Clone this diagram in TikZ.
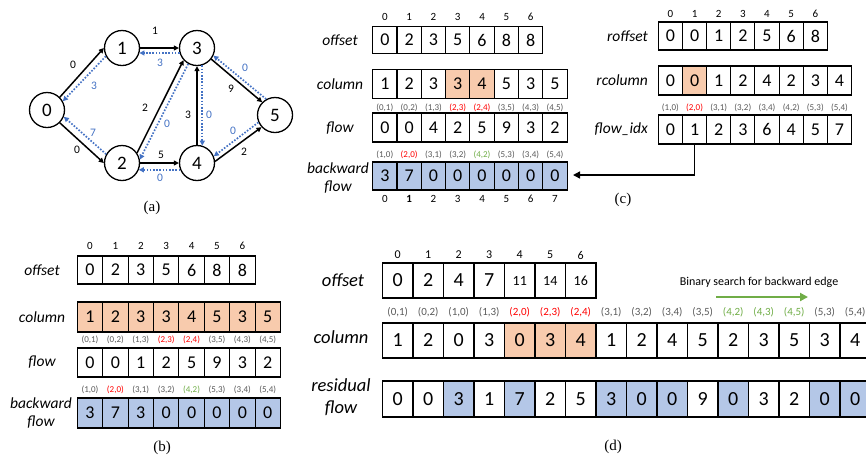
\documentclass[tikz,border=0pt]{standalone}
\usepackage{fontspec}
\setmainfont{Carlito}
\newfontfamily\capfont{Liberation Serif}
\usetikzlibrary{arrows.meta}

\definecolor{hlorange}{HTML}{F8CBAD}
\definecolor{hlblue}{HTML}{B4C7E7}
\definecolor{revblue}{HTML}{4472C4}
\definecolor{srchgreen}{HTML}{70AD47}
\definecolor{edgered}{HTML}{FF0000}
\definecolor{idxgray}{HTML}{595959}

\newcommand{\fsz}[1]{\fontsize{#1}{#1}\selectfont}

\tikzset{
  cell/.style={draw, line width=1.1pt, inner sep=0pt, minimum width=24.3pt,
    minimum height=29pt, font=\fsz{18}},
  bigcell/.style={cell, minimum width=30.5pt, minimum height=35pt, font=\fsz{20}},
  idx/.style={inner sep=0pt, font=\fsz{11}},
  elab/.style={inner sep=0pt, font=\fsz{9}},
  rowlab/.style={inner sep=0pt, align=center, font=\fontsize{15.5}{18}\selectfont\itshape},
  bigrowlab/.style={rowlab, font=\fontsize{18.5}{22}\selectfont\itshape},
  vtx/.style={circle, draw, line width=1.3pt, minimum size=35pt, inner sep=0pt, font=\fsz{19}},
  fwd/.style={line width=1.5pt, -{Triangle[length=5pt,width=5pt]}},
  bwd/.style={line width=1.7pt, revblue, dash pattern=on 1.6pt off 1.6pt,
    -{Triangle[length=5pt,width=5pt]}},
  wlab/.style={inner sep=0pt, font=\fsz{11.5}},
  blab/.style={wlab, text=revblue},
  capt/.style={inner sep=0pt, font=\capfont\fsz{15}},
}

\begin{document}
\begin{tikzpicture}[x=1pt, y=-1pt]
  \useasboundingbox (0,0) rectangle (866,456);
  \clip (0,0) rectangle (866,456);

  % (a) the graph
  \node[vtx] (v0) at (47,110) {0};
  \node[vtx] (v1) at (122,48) {1};
  \node[vtx] (v2) at (122,163) {2};
  \node[vtx] (v3) at (197,48) {3};
  \node[vtx] (v4) at (197,163) {4};
  \node[vtx] (v5) at (275,115) {5};

  \draw[fwd] (v0.45) -- (v1.west);
  \draw[fwd] (v0.315) -- (v2.west);
  \draw[fwd] (v1) -- (v3);
  \draw[fwd] (v2.34) -- (v3.222);
  \draw[fwd] (v2) -- (v4);
  \draw[fwd] (v4) -- (v3);
  \draw[fwd] (v3.322) -- (v5.135);
  \draw[fwd] (v4.5) -- (v5.222);

  \draw[bwd] (v1.207) -- (v0.29);
  \draw[bwd] (v2.151) -- (v0.338);
  \draw[bwd] (v3.196) -- (v1.344);
  \draw[bwd] (v3.241) -- (v2.11);
  \draw[bwd] (v4.202) -- (v2.338);
  \draw[bwd] (v3.287) -- (v4.73);
  \draw[bwd] (v5.119) -- (v3.335);
  \draw[bwd] (v5.204) -- (v4.22);

  \node[wlab] (w01) at (73,65) {0};
  \node[wlab] (w02) at (77,150) {0};
  \node[wlab] (w13) at (155,31) {1};
  \node[wlab] (w23) at (145,108) {2};
  \node[wlab] (w24) at (161,155) {5};
  \node[wlab] (w43) at (188,115) {3};
  \node[wlab] (w35) at (231,89) {9};
  \node[wlab] (w45) at (244,152) {2};
  \node[blab] (r10) at (94,86) {3};
  \node[blab] (r20) at (93,133) {7};
  \node[blab] (r31) at (160,63) {3};
  \node[blab] (r32) at (167,124) {0};
  \node[blab] (r34) at (209,115) {0};
  \node[blab] (r53) at (245,68) {0};
  \node[blab] (r54) at (233,131) {0};
  \node[blab] (r42) at (160,178) {0};
  \node[capt] (cap-a) at (152,208) {(a)};

  % (b) CSR with all columns scanned
  \node[rowlab] (b-l-off) at (42,270) {offset};
  \node[rowlab] (b-l-col) at (42,317) {column};
  \node[rowlab] (b-l-flow) at (42,362) {flow};
  \node[rowlab] (b-l-bwd) at (41,413) {backward\\flow};
  \foreach \v [count=\i from 0] in {0,2,3,5,6,8,8} {
    \node[idx] (b-oi-\i) at (90+\i*25.4,246) {\i};
    \node[cell, minimum width=25.4pt, minimum height=28pt] (b-off-\i) at (90+\i*25.4,270) {\v};
  }
  \foreach \v [count=\i from 0] in {1,2,3,3,4,5,3,5} {
    \node[cell, minimum width=25.4pt, minimum height=30pt, fill=hlorange] (b-col-\i) at (90+\i*25.4,317) {\v};
  }
  \foreach \v/\a/\b/\c [count=\i from 0] in {0/0/1/idxgray,0/0/2/idxgray,1/1/3/idxgray,2/2/3/edgered,
      5/2/4/edgered,9/3/5/idxgray,3/4/3/idxgray,2/4/5/idxgray} {
    \node[elab, text=\c] (b-fe-\i) at (90+\i*25.4,340) {(\a,\b)};
    \node[cell, minimum width=25.4pt] (b-flow-\i) at (90+\i*25.4,362.5) {\v};
  }
  \foreach \v/\a/\b/\c [count=\i from 0] in {3/1/0/idxgray,7/2/0/edgered,3/3/1/idxgray,0/3/2/idxgray,
      0/4/2/srchgreen,0/5/3/idxgray,0/3/4/idxgray,0/5/4/idxgray} {
    \node[elab, text=\c] (b-be-\i) at (90+\i*25.4,390) {(\a,\b)};
    \node[cell, minimum width=25.4pt, minimum height=30pt, fill=hlblue] (b-bwd-\i) at (90+\i*25.4,413) {\v};
  }
  \node[capt] (cap-b) at (162,448) {(b)};

  % (c) CSR plus reverse CSR
  \node[rowlab] (c-l-off) at (340,40) {offset};
  \node[rowlab] (c-l-col) at (340,84) {column};
  \node[rowlab] (c-l-flow) at (340,128) {flow};
  \node[rowlab] (c-l-bwd) at (338,178) {backward\\flow};
  \foreach \v [count=\i from 0] in {0,2,3,5,6,8,8} {
    \node[idx] (c-oi-\i) at (384.85+\i*24.3,17) {\i};
    \node[cell, minimum height=27pt] (c-off-\i) at (384.85+\i*24.3,40) {\v};
  }
  \foreach \v/\f [count=\i from 0] in {1/white,2/white,3/white,3/hlorange,4/hlorange,5/white,3/white,5/white} {
    \node[cell, fill=\f] (c-col-\i) at (384.85+\i*24.3,84) {\v};
  }
  \foreach \v/\a/\b/\c [count=\i from 0] in {0/0/1/idxgray,0/0/2/idxgray,4/1/3/idxgray,2/2/3/edgered,
      5/2/4/edgered,9/3/5/idxgray,3/4/3/idxgray,2/4/5/idxgray} {
    \node[elab, text=\c] (c-fe-\i) at (384.85+\i*24.3,108) {(\a,\b)};
    \node[cell] (c-flow-\i) at (384.85+\i*24.3,127.5) {\v};
  }
  \foreach \v/\a/\b/\c [count=\i from 0] in {3/1/0/idxgray,7/2/0/edgered,0/3/1/idxgray,0/3/2/idxgray,
      0/4/2/srchgreen,0/5/3/idxgray,0/3/4/idxgray,0/5/4/idxgray} {
    \node[elab, text=\c] (c-be-\i) at (384.85+\i*24.3,155) {(\a,\b)};
    \node[cell, minimum height=28pt, fill=hlblue] (c-bwd-\i) at (384.85+\i*24.3,176) {\v};
    \node[idx] (c-bi-\i) at (384.85+\i*24.3,199) {\ifnum\i=1 \bfseries\fi\i};
  }

  \node[rowlab, anchor=east] (c-l-roff) at (648,36) {roffset};
  \node[rowlab, anchor=east] (c-l-rcol) at (648,80.5) {rcolumn};
  \node[rowlab, anchor=east] (c-l-fidx) at (648,129.5) {flow\_idx};
  \foreach \v [count=\i from 0] in {0,0,1,2,5,6,8} {
    \node[idx] (c-ri-\i) at (670.4+\i*24.15,14) {\i};
    \node[cell, minimum width=24.15pt, minimum height=28pt] (c-roff-\i) at (670.4+\i*24.15,36) {\v};
  }
  \foreach \v/\f [count=\i from 0] in {0/white,0/hlorange,1/white,2/white,4/white,2/white,3/white,4/white} {
    \node[cell, minimum width=24.15pt, fill=\f] (c-rcol-\i) at (670.4+\i*24.15,80.5) {\v};
  }
  \foreach \v/\a/\b/\c [count=\i from 0] in {0/1/0/idxgray,1/2/0/edgered,2/3/1/idxgray,3/3/2/idxgray,
      6/3/4/idxgray,4/4/2/idxgray,5/5/3/idxgray,7/5/4/idxgray} {
    \node[elab, text=\c] (c-re-\i) at (670.4+\i*24.15,108) {(\a,\b)};
    \node[cell, minimum width=24.15pt] (c-fi-\i) at (670.4+\i*24.15,129.5) {\v};
  }
  \coordinate (bwd-in) at (573,175);
  \draw[line width=1.5pt, -{Triangle[length=7pt,width=7pt]}] (c-fi-1.south) |- (bwd-in);
  \node[capt] (cap-c) at (623,200) {(c)};

  % (d) merged CSR with residual flow
  \node[bigrowlab] (d-l-off) at (343,280.5) {offset};
  \node[bigrowlab] (d-l-col) at (341,337) {column};
  \node[bigrowlab] (d-l-res) at (341,397) {residual\\flow};
  \foreach \v/\s [count=\i from 0] in {0/20,2/20,4/20,7/20,11/14,14/14,16/14} {
    \node[idx, font=\fsz{12}] (d-oi-\i) at (397.75+\i*30.5,255) {\i};
    \node[bigcell, font=\fsz{\s}] (d-off-\i) at (397.75+\i*30.5,280.5) {\v};
  }
  \foreach \v/\f/\a/\b/\c [count=\i from 0] in {1/white/0/1/idxgray,2/white/0/2/idxgray,0/white/1/0/idxgray,
      3/white/1/3/idxgray,0/hlorange/2/0/edgered,3/hlorange/2/3/edgered,4/hlorange/2/4/edgered,
      1/white/3/1/idxgray,2/white/3/2/idxgray,4/white/3/4/idxgray,5/white/3/5/idxgray,
      2/white/4/2/srchgreen,3/white/4/3/srchgreen,5/white/4/5/srchgreen,3/white/5/3/idxgray,
      4/white/5/4/idxgray} {
    \node[elab, font=\fsz{11}, text=\c] (d-ce-\i) at (397.75+\i*30.5,312) {(\a,\b)};
    \node[bigcell, fill=\f] (d-col-\i) at (397.75+\i*30.5,340.5) {\v};
  }
  \foreach \v/\f [count=\i from 0] in {0/white,0/white,3/hlblue,1/white,7/hlblue,2/white,5/white,
      3/hlblue,0/hlblue,0/hlblue,9/white,0/hlblue,3/white,2/white,0/hlblue,0/hlblue} {
    \node[bigcell, minimum height=36pt, fill=\f] (d-res-\i) at (397.75+\i*30.5,399) {\v};
  }
  \coordinate (srch-a) at (716,297);
  \coordinate (srch-b) at (808,297);
  \draw[line width=2.6pt, srchgreen, -{Triangle[length=8pt,width=8pt]}] (srch-a) -- (srch-b);
  \node[inner sep=0pt, font=\fsz{12}] (srch-t) at (759,282) {Binary search for backward edge};
  \node[capt] (cap-d) at (613,447) {(d)};
\end{tikzpicture}
\end{document}
